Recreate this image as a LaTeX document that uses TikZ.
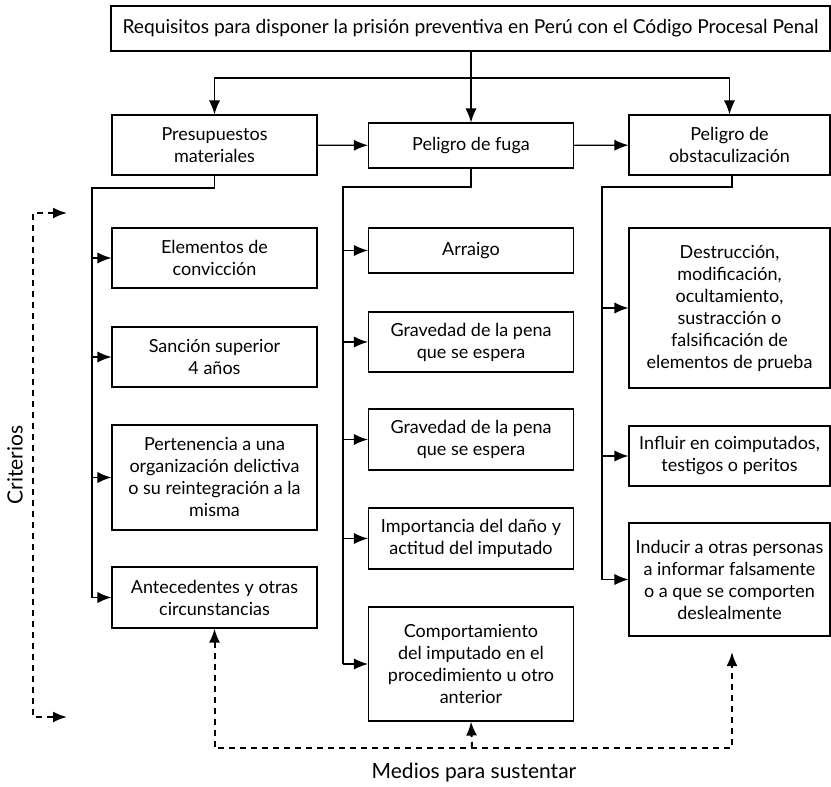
\documentclass[tikz,border=0pt]{standalone}
\usepackage{fontspec}
\setmainfont{Lato}
\usetikzlibrary{arrows.meta}

\tikzset{
  caja/.style={draw, line width=1.1pt, align=center, inner sep=0pt, font=\fontsize{18}{22}\selectfont},
  ancha/.style={caja, minimum width=205pt},
  punta/.tip={Latex[length=14pt,width=11pt]},
  flecha/.style={-punta, line width=1.1pt},
  ramal/.style={line width=1.1pt},
  medio/.style={line width=2pt, dash pattern=on 6pt off 5pt},
  rotulo/.style={font=\fontsize{21}{24}\selectfont},
}

\begin{document}
\begin{tikzpicture}[x=1pt,y=-1pt]
\useasboundingbox (0,0) rectangle (831,787);

\node[caja, minimum width=719pt, minimum height=45pt, font=\fontsize{19.2}{22}\selectfont] (req) at (470.5,28.5) {Requisitos para disponer la prisión preventiva en Perú con el Código Procesal Penal};

\node[ancha, minimum height=60pt] (pres) at (214.5,145) {Presupuestos\\materiales};
\node[ancha, minimum height=45pt] (fuga) at (471,145.5) {Peligro de fuga};
\node[caja, minimum width=201pt, minimum height=60pt] (obst) at (729.5,145) {Peligro de\\obstaculización};

\node[ancha, minimum height=60pt] (elem) at (214.5,258) {Elementos de\\convicción};
\node[ancha, minimum height=60pt] (sanc) at (214.5,357) {Sanción superior\\4 años};
\node[ancha, minimum height=105pt] (pert) at (214.5,477.5) {Pertenencia a una\\organización delictiva\\o su reintegración a la\\misma};
\node[ancha, minimum height=61pt] (ante) at (214.5,597.5) {Antecedentes y otras\\circunstancias};

\node[ancha, minimum height=45pt] (arra) at (471,250.5) {Arraigo};
\node[ancha, minimum height=60pt] (grava) at (471,342) {Gravedad de la pena\\que se espera};
\node[ancha, minimum height=61pt] (gravb) at (471,439.5) {Gravedad de la pena\\que se espera};
\node[ancha, minimum height=61pt] (impo) at (471,538.5) {Importancia del daño y\\actitud del imputado};
\node[ancha, minimum height=114pt] (comp) at (471,664) {Comportamiento\\del imputado en el\\procedimiento u otro\\anterior};

\node[caja, minimum width=201pt, minimum height=160pt] (dest) at (729.5,308) {Destrucción,\\modificación,\\ocultamiento,\\sustracción o\\falsificación de\\elementos de prueba};
\node[caja, minimum width=201pt, minimum height=60pt] (infl) at (729.5,456) {Influir en coimputados,\\testigos o peritos};
\node[caja, minimum width=201pt, minimum height=113pt] (indu) at (729.5,579.5) {Inducir a otras personas\\a informar falsamente\\o a que se comporten\\deslealmente};

\node[rotulo, rotate=90] (crit) at (15,465) {Criterios};
\node[rotulo] (medios) at (474,773) {Medios para sustentar};

\coordinate (bifur) at (472,78);
\draw[flecha] (req.south -| fuga.north) -- (fuga.north);
\draw[flecha] (bifur) -| (pres.north);
\draw[flecha] (bifur) -| (obst.north);
\draw[flecha] (pres) -- (fuga);
\draw[flecha] (fuga) -- (obst);

\coordinate (tp) at (92,188);
\draw[ramal] (pres.south) |- (tp) -- (tp |- ante.west);
\draw[flecha] (tp |- elem.west) -- (elem.west);
\draw[flecha] (tp |- sanc.west) -- (sanc.west);
\draw[flecha] (tp |- pert.west) -- (pert.west);
\draw[flecha] (tp |- ante.west) -- (ante.west);

\coordinate (tf) at (343,187);
\draw[ramal] (fuga.south) |- (tf) -- (tf |- comp.west);
\draw[flecha] (tf |- arra.west) -- (arra.west);
\draw[flecha] (tf |- grava.west) -- (grava.west);
\draw[flecha] (tf |- gravb.west) -- (gravb.west);
\draw[flecha] (tf |- impo.west) -- (impo.west);
\draw[flecha] (tf |- comp.west) -- (comp.west);

\coordinate (to) at (602,187);
\draw[ramal] (obst.south -| 732,0) |- (to) -- (to |- indu.west);
\draw[flecha] (to |- dest.west) -- (dest.west);
\draw[flecha] (to |- infl.west) -- (infl.west);
\draw[flecha] (to |- indu.west) -- (indu.west);

\coordinate (critA) at (67,213);
\coordinate (critB) at (67,717);
\draw[medio, punta-punta] (critA) -- (33,213) -- (33,717) -- (critB);

\coordinate (medA) at (472,748);
\coordinate (induA) at (732,652);
\draw[medio, punta-punta] (ante.south) |- (medA) -| (induA);
\draw[medio, -punta] (medA) -- (comp.south);

\end{tikzpicture}
\end{document}
